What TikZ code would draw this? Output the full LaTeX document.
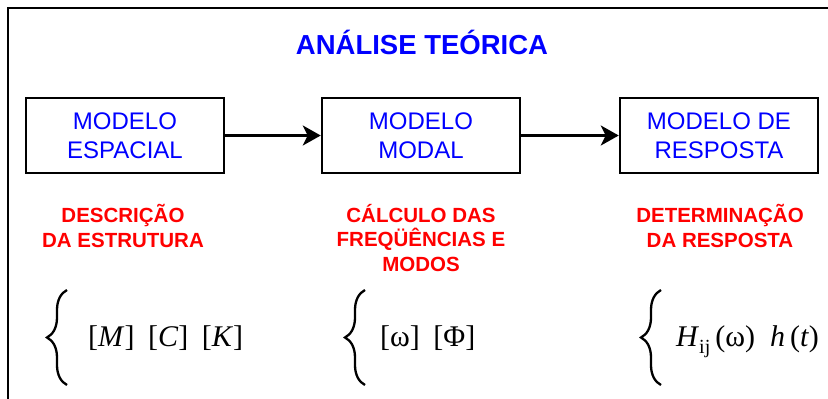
\documentclass[tikz,border=0pt]{standalone}
\usepackage{fontspec}
\setmainfont{Liberation Sans}
\newfontfamily\serifmath{Liberation Serif}
\usetikzlibrary{positioning}
\usetikzlibrary{arrows.meta}
\usetikzlibrary{decorations.pathreplacing}
\definecolor{titleblue}{RGB}{0,0,255}
\definecolor{labelred}{RGB}{255,0,0}
\tikzset{model/.style = {draw, line width=2.5pt, minimum width=198pt,
                         minimum height=75pt, align=center, text=titleblue,
                         font=\fontsize{24}{29}\selectfont}}
\tikzset{task/.style = {align=center, text=labelred,
                        font=\bfseries\fontsize{20.5}{24.5}\selectfont}}
\tikzset{flow/.style = {line width=3pt,
                        -{Stealth[length=18pt, width=20pt, inset=5pt]}}}
\tikzset{curly/.style = {decorate, decoration={brace, amplitude=20pt},
                         line width=2.3pt}}
\tikzset{formula/.style = {anchor=base west, inner sep=0pt,
                           font=\serifmath\fontsize{30}{30}\selectfont}}

\begin{document}
\begin{tikzpicture}[x=1pt, y=-1pt]
    \useasboundingbox (0,0) rectangle (828,399);
    % frame
    \draw[line width=2.5pt] (8,399) -- (8,8) -- (828,8);
    \node[font=\bfseries\fontsize{27.5}{27.5}\selectfont, text=titleblue,
          anchor=base] (title) at (422,54) {ANÁLISE TEÓRICA};
    % models
    \node[model] (spatial) at (125,135.5) {MODELO\\ESPACIAL};
    \node[model] (modal) at (421,135.5) {MODELO\\MODAL};
    \node[model] (response) at (719,135.5) {MODELO DE\\RESPOSTA};
    \draw[flow] (spatial) -- (modal);
    \draw[flow] (modal) -- (response);
    % tasks
    \node[task] (describe) at (123,226) {DESCRIÇÃO\\DA ESTRUTURA};
    \node[task] (compute) at (421,238) {CÁLCULO DAS\\FREQÜÊNCIAS E\\MODOS};
    \node[task] (determine) at (720,226) {DETERMINAÇÃO\\DA RESPOSTA};
    % quantities
    \draw[curly] (67,385) -- (67,290);
    \draw[curly] (365,385) -- (365,290);
    \draw[curly] (661,385) -- (661,290);
    \node[formula] (matrices) at (88,346)
        {[\textit{M}]\hspace{0.45em}[\textit{C}]\hspace{0.45em}[\textit{K}]};
    \node[formula] (spectra) at (380,346) {[ω]\hspace{0.45em}[Φ]};
    \node[formula] (functions) at (676,346)
        {\textit{H}\raisebox{-0.25em}{\fontsize{20}{20}\selectfont ij}\,(ω)%
         \hspace{0.5em}\textit{h}\,(\textit{t})};
\end{tikzpicture}
\end{document}
